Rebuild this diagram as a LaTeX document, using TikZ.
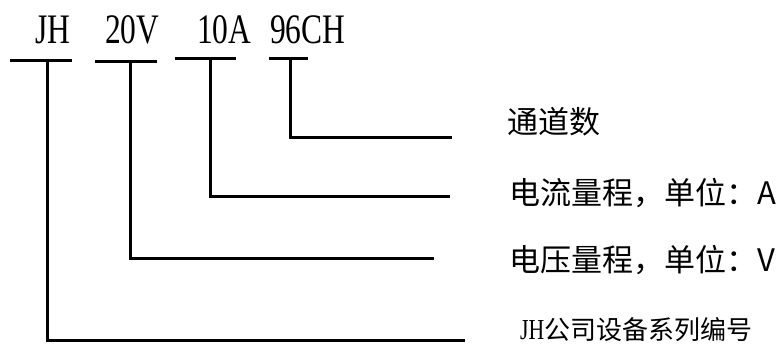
\documentclass[tikz,border=0pt]{standalone}
\usepackage{fontspec}
\newfontfamily\cjk{Noto Sans CJK SC}
\newfontfamily\narrowserif[FakeStretch=0.75]{Liberation Serif}
\begin{document}
\begin{tikzpicture}[x=1pt,y=-1pt,
  wire/.style={line width=3pt},
  code/.style={inner sep=0pt,anchor=base west,font=\narrowserif\fontsize{42}{42}\selectfont},
  lab/.style={inner sep=0pt,anchor=west,font=\cjk\fontsize{31}{31}\selectfont},
  labsmall/.style={inner sep=0pt,anchor=west,font=\cjk\fontsize{26}{26}\selectfont}]
\useasboundingbox (0,0) rectangle (783,349);
% code letters
\node[code] (jh) at (35,43) {JH};
\node[code] (v) at (105,43) {20V};
\node[code] (a) at (197,43) {10A};
\node[code] (ch) at (270,43) {96CH};
% underline coordinates
\coordinate (jhL) at (10,60);  \coordinate (jhR) at (72,60);  \coordinate (jhM) at (47.5,60);
\coordinate (vL) at (95,61);   \coordinate (vR) at (157,61);  \coordinate (vM) at (130,61);
\coordinate (aL) at (175,58);  \coordinate (aR) at (236,58);  \coordinate (aM) at (210,58);
\coordinate (chL) at (269,58.5); \coordinate (chR) at (308,58.5); \coordinate (chM) at (290.5,58.5);
\draw[wire] (jhL) -- (jhR);
\draw[wire] (vL) -- (vR);
\draw[wire] (aL) -- (aR);
\draw[wire] (chL) -- (chR);
% end coordinates
\coordinate (chE) at (452,137.5);
\coordinate (aE) at (450,196);
\coordinate (vE) at (434,258);
\coordinate (jhE) at (465,340);
\draw[wire] (chM) |- (chE);
\draw[wire] (aM) |- (aE);
\draw[wire] (vM) |- (vE);
\draw[wire] (jhM) |- (jhE);
% labels
\node[lab] (l1) at (507,122) {通道数};
\node[lab] (l2) at (509,193) {电流量程，单位：A};
\node[lab] (l3) at (509,260) {电压量程，单位：V};
\node[labsmall] (l4) at (520,330) {{\narrowserif\fontsize{29}{29}\selectfont JH}公司设备系列编号};
\end{tikzpicture}
\end{document}
